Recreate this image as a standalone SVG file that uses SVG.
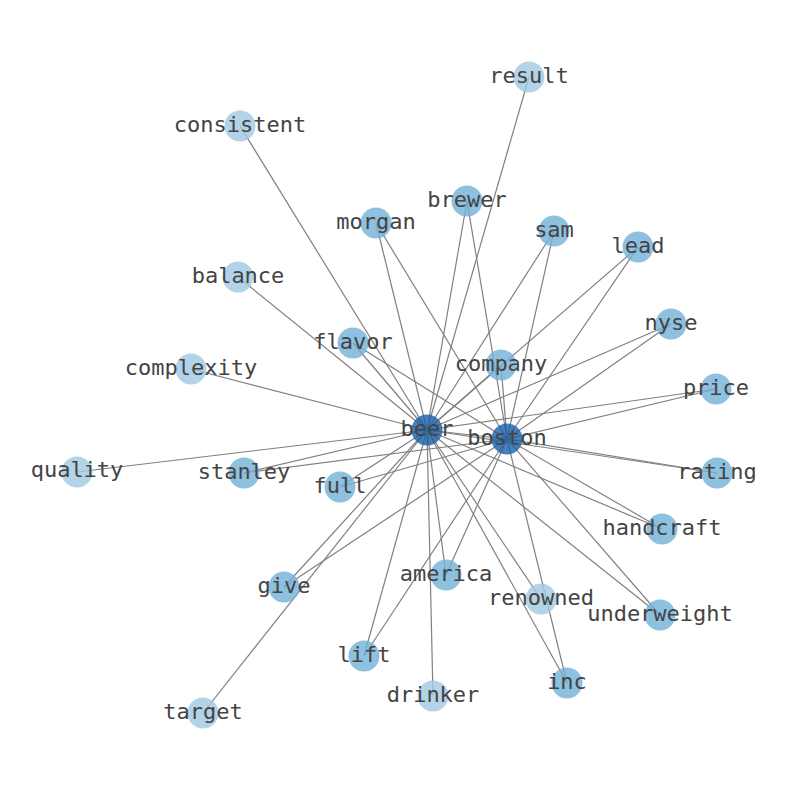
<svg xmlns="http://www.w3.org/2000/svg" width="794" height="790" viewBox="0 0 794 790">
<style>
.e{stroke:#808080;stroke-width:1.2;fill:none}
.n circle{stroke:none;fill-opacity:0.8}
.l circle{fill:#a0c9e2}
.m circle{fill:#72b0d8}
.h circle{fill:#1a5fa6}
text{font-family:"DejaVu Sans Mono","Liberation Mono",monospace;font-size:22px;fill:#444444;text-anchor:middle}
</style>
<rect width="794" height="790" fill="#fff"/>
<g id="edges">
<line class="e" x1="427" y1="430" x2="507" y2="439"/>
<line class="e" x1="427" y1="430" x2="529" y2="77"/>
<line class="e" x1="427" y1="430" x2="240" y2="126"/>
<line class="e" x1="427" y1="430" x2="238" y2="277"/>
<line class="e" x1="427" y1="430" x2="191" y2="369"/>
<line class="e" x1="427" y1="430" x2="77" y2="472"/>
<line class="e" x1="427" y1="430" x2="541" y2="599"/>
<line class="e" x1="427" y1="430" x2="433" y2="696"/>
<line class="e" x1="427" y1="430" x2="203" y2="713"/>
<line class="e" x1="427" y1="430" x2="467" y2="201"/>
<line class="e" x1="507" y1="439" x2="467" y2="201"/>
<line class="e" x1="427" y1="430" x2="376" y2="223"/>
<line class="e" x1="507" y1="439" x2="376" y2="223"/>
<line class="e" x1="427" y1="430" x2="554" y2="231"/>
<line class="e" x1="507" y1="439" x2="554" y2="231"/>
<line class="e" x1="427" y1="430" x2="638" y2="247"/>
<line class="e" x1="507" y1="439" x2="638" y2="247"/>
<line class="e" x1="427" y1="430" x2="671" y2="324"/>
<line class="e" x1="507" y1="439" x2="671" y2="324"/>
<line class="e" x1="427" y1="430" x2="353" y2="343"/>
<line class="e" x1="507" y1="439" x2="353" y2="343"/>
<line class="e" x1="427" y1="430" x2="501" y2="365"/>
<line class="e" x1="507" y1="439" x2="501" y2="365"/>
<line class="e" x1="427" y1="430" x2="716" y2="389"/>
<line class="e" x1="507" y1="439" x2="716" y2="389"/>
<line class="e" x1="427" y1="430" x2="244" y2="473"/>
<line class="e" x1="507" y1="439" x2="244" y2="473"/>
<line class="e" x1="427" y1="430" x2="340" y2="487"/>
<line class="e" x1="507" y1="439" x2="340" y2="487"/>
<line class="e" x1="427" y1="430" x2="717" y2="473"/>
<line class="e" x1="507" y1="439" x2="717" y2="473"/>
<line class="e" x1="427" y1="430" x2="662" y2="529"/>
<line class="e" x1="507" y1="439" x2="662" y2="529"/>
<line class="e" x1="427" y1="430" x2="284" y2="587"/>
<line class="e" x1="507" y1="439" x2="284" y2="587"/>
<line class="e" x1="427" y1="430" x2="446" y2="575"/>
<line class="e" x1="507" y1="439" x2="446" y2="575"/>
<line class="e" x1="427" y1="430" x2="660" y2="615"/>
<line class="e" x1="507" y1="439" x2="660" y2="615"/>
<line class="e" x1="427" y1="430" x2="364" y2="656"/>
<line class="e" x1="507" y1="439" x2="364" y2="656"/>
<line class="e" x1="427" y1="430" x2="567" y2="683"/>
<line class="e" x1="507" y1="439" x2="567" y2="683"/>
</g>
<g id="result" class="n l"><circle cx="529" cy="77" r="15.5"/><text x="529" y="83">result</text></g>
<g id="consistent" class="n l"><circle cx="240" cy="126" r="15.5"/><text x="240" y="132">consistent</text></g>
<g id="balance" class="n l"><circle cx="238" cy="277" r="15.5"/><text x="238" y="283">balance</text></g>
<g id="complexity" class="n l"><circle cx="191" cy="369" r="15.5"/><text x="191" y="375">complexity</text></g>
<g id="quality" class="n l"><circle cx="77" cy="472" r="15.5"/><text x="77" y="477">quality</text></g>
<g id="renowned" class="n l"><circle cx="541" cy="599" r="15.5"/><text x="541" y="605">renowned</text></g>
<g id="drinker" class="n l"><circle cx="433" cy="696" r="15.5"/><text x="433" y="702">drinker</text></g>
<g id="target" class="n l"><circle cx="203" cy="713" r="15.5"/><text x="203" y="719">target</text></g>
<g id="brewer" class="n m"><circle cx="467" cy="201" r="15.5"/><text x="467" y="207">brewer</text></g>
<g id="morgan" class="n m"><circle cx="376" cy="223" r="15.5"/><text x="376" y="229">morgan</text></g>
<g id="sam" class="n m"><circle cx="554" cy="231" r="15.5"/><text x="554" y="237">sam</text></g>
<g id="lead" class="n m"><circle cx="638" cy="247" r="15.5"/><text x="638" y="253">lead</text></g>
<g id="nyse" class="n m"><circle cx="671" cy="324" r="15.5"/><text x="671" y="330">nyse</text></g>
<g id="flavor" class="n m"><circle cx="353" cy="343" r="15.5"/><text x="353" y="349">flavor</text></g>
<g id="company" class="n m"><circle cx="501" cy="365" r="15.5"/><text x="501" y="371">company</text></g>
<g id="price" class="n m"><circle cx="716" cy="389" r="15.5"/><text x="716" y="395">price</text></g>
<g id="stanley" class="n m"><circle cx="244" cy="473" r="15.5"/><text x="244" y="479">stanley</text></g>
<g id="full" class="n m"><circle cx="340" cy="487" r="15.5"/><text x="340" y="493">full</text></g>
<g id="rating" class="n m"><circle cx="717" cy="473" r="15.5"/><text x="717" y="479">rating</text></g>
<g id="handcraft" class="n m"><circle cx="662" cy="529" r="15.5"/><text x="662" y="535">handcraft</text></g>
<g id="give" class="n m"><circle cx="284" cy="587" r="15.5"/><text x="284" y="593">give</text></g>
<g id="america" class="n m"><circle cx="446" cy="575" r="15.5"/><text x="446" y="581">america</text></g>
<g id="underweight" class="n m"><circle cx="660" cy="615" r="15.5"/><text x="660" y="621">underweight</text></g>
<g id="lift" class="n m"><circle cx="364" cy="656" r="15.5"/><text x="364" y="662">lift</text></g>
<g id="inc" class="n m"><circle cx="567" cy="683" r="15.5"/><text x="567" y="689">inc</text></g>
<g id="beer" class="n h"><circle cx="427" cy="430" r="15.5"/><text x="427" y="436">beer</text></g>
<g id="boston" class="n h"><circle cx="507" cy="439" r="15.5"/><text x="507" y="445">boston</text></g>
</svg>
